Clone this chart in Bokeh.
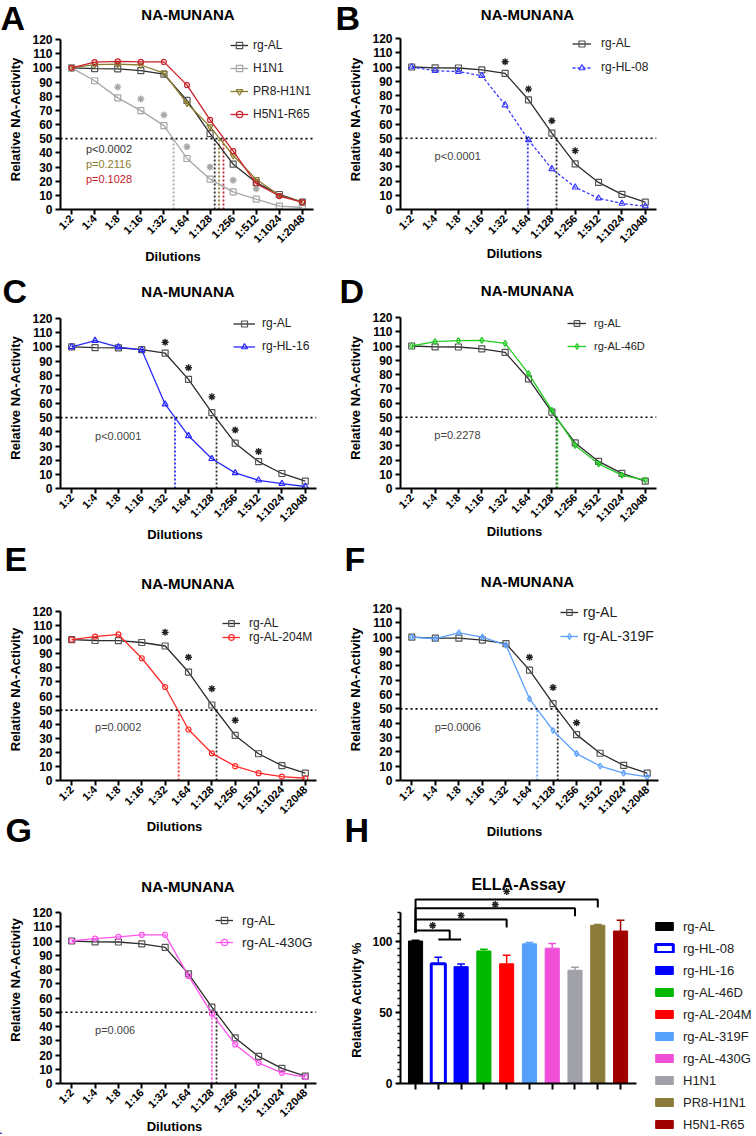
import math
from bokeh.plotting import figure
from bokeh.models import Range1d, FixedTicker, Label, Legend, LegendItem, Span
from bokeh.layouts import column, row
from bokeh.embed import file_html
from bokeh.resources import INLINE
from bokeh.core.properties import value

FONT = "Liberation Sans"

# ---------------- data ----------------
dilutions = ["1:2", "1:4", "1:8", "1:16", "1:32", "1:64", "1:128", "1:256", "1:512", "1:1024", "1:2048"]

rg_al      = [100, 99.4, 99.3, 98.0, 95.5, 77.0, 53.6, 32.0, 19.0, 10.6, 5.2]
h1n1       = [100, 90.9, 78.8, 69.8, 59.2, 36.0, 21.4, 12.4, 7.3, 2.4, 1.4]
pr8_h1n1   = [100, 102.2, 102.6, 102.0, 96.3, 75.0, 58.5, 38.1, 21.3, 10.0, 5.2]
h5n1_r65   = [100, 104.0, 104.6, 104.2, 104.2, 87.8, 63.2, 41.2, 18.2, 9.5, 5.2]
rg_hl_08   = [100, 97.4, 96.8, 93.9, 73.3, 48.8, 28.5, 15.6, 7.9, 4.2, 2.3]
rg_hl_16   = [100, 104.4, 99.8, 97.8, 59.5, 37.2, 21.0, 11.0, 5.8, 3.4, 1.4]
rg_al_46d  = [100, 103.1, 103.8, 104.0, 101.9, 80.6, 54.8, 30.2, 17.3, 9.4, 5.9]
rg_al_204m = [100, 102.2, 103.7, 86.8, 66.4, 36.2, 19.3, 10.2, 5.2, 2.8, 1.6]
rg_al_319f = [100, 98.9, 103.0, 100.0, 94.4, 57.0, 34.9, 18.7, 10.1, 5.2, 2.5]
rg_al_430g = [100, 101.7, 102.9, 104.3, 104.3, 75.5, 49.0, 27.4, 14.5, 7.5, 4.5]

# IC50 positions (in dilution-step units)
ic50_rg_al = 6.2
ic50_h1n1 = 4.42
ic50_pr8 = 6.39
ic50_h5n1 = 6.58
ic50_hl08 = 4.97
ic50_hl16 = 4.42
ic50_46d = 6.24
ic50_204m = 4.58
ic50_319f = 5.33
ic50_430g = 6.0

# significance stars (step index, height)
stars_a_x = [2, 3, 4, 5, 6, 7, 8]
stars_a_y = [86.4, 78.0, 66.7, 44.3, 30.0, 20.6, 14.7]
stars_b_x = [4, 5, 6, 7]
stars_b_y = [103.7, 84.5, 62.3, 41.3]
stars_c_x = [4, 5, 6, 7, 8]
stars_c_y = [103.2, 85.2, 64.7, 41.3, 26.1]
stars_e_x = [4, 5, 6, 7]
stars_e_y = [105.2, 87.5, 65.2, 42.8]
stars_f_x = [5, 6, 7]
stars_f_y = [86.0, 64.9, 40.3]

# ELLA assay
ella_names = ["rg-AL", "rg-HL-08", "rg-HL-16", "rg-AL-46D", "rg-AL-204M",
              "rg-AL-319F", "rg-AL-430G", "H1N1", "PR8-H1N1", "H5N1-R65"]
ella_mean = [100.0, 84.0, 82.0, 93.0, 84.0, 98.0, 95.0, 79.5, 111.0, 107.0]
ella_err = [0.6, 4.6, 1.8, 1.2, 6.0, 1.0, 3.2, 2.0, 0.5, 7.5]
ella_fill = ["#000000", "#ffffff", "#0000ff", "#00b800", "#ff0000",
             "#55a0fa", "#f050d8", "#a0a0a8", "#8b7b3a", "#a00000"]
ella_line = ["#000000", "#0000ff", "#0000ff", "#00b800", "#ff0000",
             "#55a0fa", "#f050d8", "#a0a0a8", "#8b7b3a", "#a00000"]
br_from = [0, 0, 0, 0]
br_to = [8, 7, 4, 1.5]
br_y = [129.1, 122.9, 115.1, 107.4]
br_right_end = [123.5, 117.3, 109.5, 101.1]
br_left_end = 106.0
sub_from, sub_to, sub_y = 1, 2, 101.1
ella_star_x = [4, 3.5, 2, 0.75]
ella_star_y = [134.8, 125.6, 117.9, 110.9]

W, H = 754, 1134


# ---------------- helpers ----------------
def make_fig(page, frame, x_range, y_range):
    x0, y0, x1, y1 = page
    fl, ft, fr, fb = frame
    p = figure(width=x1 - x0, height=y1 - y0, x_range=x_range, y_range=y_range,
               min_border_left=fl - x0, min_border_right=x1 - fr,
               min_border_top=ft - y0, min_border_bottom=y1 - fb,
               output_backend="svg", toolbar_location=None, tools="")
    p.grid.visible = False
    p.outline_line_color = None
    p.background_fill_color = "white"
    p.border_fill_color = "white"
    return p


def make_legend(items, origin_left, origin_bottom, glyph_left, row1, pitch, font, standoff,
                glyph_w=18, item_h=16, glyph_h=None):
    n = len(items)
    spacing = max(0, int(round(pitch - item_h)))
    height = n * item_h + (n - 1) * spacing
    top = row1 - item_h / 2
    return Legend(items=items, location=(glyph_left - origin_left, origin_bottom - (top + height)),
                  padding=0, margin=0, spacing=spacing,
                  glyph_width=glyph_w, glyph_height=glyph_h or item_h,
                  label_height=item_h, label_standoff=standoff,
                  label_text_font=FONT, label_text_font_size=f"{font}px",
                  label_text_color="#222222",
                  border_line_alpha=0, background_fill_alpha=0)


def style_axes(p):
    for ax in p.axis:
        ax.axis_line_width = 2
        ax.axis_line_color = "#000000"
        ax.major_tick_line_width = 2
        ax.major_tick_line_color = "#000000"
        ax.major_tick_in = 0
        ax.major_tick_out = 5
        ax.minor_tick_in = 0
        ax.minor_tick_out = 0
        ax.major_label_text_font = FONT
        ax.major_label_text_font_style = "bold"
        ax.major_label_text_color = "#000000"
        ax.axis_label_text_font = FONT
        ax.axis_label_text_font_style = "bold"
        ax.axis_label_text_font_size = "13px"
        ax.axis_label_text_color = "#000000"


def line_panel(page, xspan, rowframe, y120, curves, ic50s, star_x, star_y, star_color,
               pvals, leg):
    fl, fr = xspan
    ftop, fbot = rowframe            # common plot-frame rows for the whole row
    y_top = 120.0 * (fbot - ftop) / (fbot - y120)   # y=120 falls on pixel row y120
    p = make_fig(page, (fl, ftop, fr, fbot), Range1d(-0.48, 10.48), Range1d(0, y_top))
    style_axes(p)
    p.xaxis.ticker = FixedTicker(ticks=list(range(len(dilutions))))
    p.xaxis.major_label_overrides = {i: d for i, d in enumerate(dilutions)}
    p.xaxis.major_label_orientation = math.pi / 4
    p.xaxis.major_label_text_font_size = "11px"
    p.xaxis.major_label_standoff = 2
    p.yaxis.ticker = FixedTicker(ticks=list(range(0, 121, 10)))
    p.yaxis.bounds = (0, 120)
    p.yaxis.major_label_text_font_size = "12px"
    p.yaxis.major_label_standoff = 3
    p.yaxis.axis_label = "Relative NA-Activity"
    p.yaxis.axis_label_standoff = 6

    p.add_layout(Span(location=50, dimension="width", line_color="#000000",
                      line_width=1.6, line_dash="2 3"))
    for xv, col in ic50s:
        p.segment(x0=[xv], y0=[0], x1=[xv], y1=[50], line_color=col,
                  line_width=1.8, line_dash="2 2")

    xs = list(range(len(dilutions)))
    items = []
    for name, vals, col, mcol, marker, msize, dash in curves:
        lr = p.line(xs, vals, line_color=col, line_width=1.3, line_dash=dash)
        sr = p.scatter(xs, vals, marker=marker, size=msize, line_color=mcol,
                       fill_alpha=0, line_width=1.2)
        items.append(LegendItem(label=name, renderers=[lr, sr]))

    if star_x:
        p.scatter(star_x, star_y, marker="asterisk", size=7, line_color=star_color,
                  line_width=1.4)

    for (xv, yv, txt, col) in pvals:
        p.add_layout(Label(x=xv, y=yv, text=txt, text_font=FONT, text_font_size="11px",
                           text_color=col, text_baseline="middle", text_align="left"))

    glyph_left, row1, pitch, font, standoff, gw, ih = leg
    p.add_layout(make_legend(items, fl, fbot, glyph_left, row1, pitch, font, standoff, gw, ih))
    return p


AL_COL = "#2b2b2b"
AL_MCOL = "#555555"
al_curve = ("rg-AL", rg_al, AL_COL, AL_MCOL, "square", 6, "solid")

# ---------------- geometry ----------------
LX0, LX1 = 0, 335
RX0, RX1 = 335, W
R1 = (0, 275)
R2 = (275, 545)
R3 = (545, 840)
R4 = (840, H)
F1 = (29, 209)
F2 = (307, 488)
F3 = (598, 780)
F4 = (876, 1083)

pA = line_panel(
    (LX0, R1[0], LX1, R1[1]), (60, 313), F1, 39,
    [al_curve,
     ("H1N1", h1n1, "#a6a6a6", "#a6a6a6", "square", 6, "solid"),
     ("PR8-H1N1", pr8_h1n1, "#8c7d2e", "#8c7d2e", "inverted_triangle", 6, "solid"),
     ("H5N1-R65", h5n1_r65, "#c8202a", "#c8202a", "circle", 5, "solid")],
    [(ic50_h1n1, "#a6a6a6"), (ic50_rg_al, "#2b2b2b"), (ic50_pr8, "#8c7d2e"), (ic50_h5n1, "#c8202a")],
    stars_a_x, stars_a_y, "#a6a6a6",
    [(0.62, 42.6, "p<0.0002", "#333333"), (0.62, 32.0, "p=0.2116", "#8c7d2e"),
     (0.62, 21.8, "p=0.1028", "#c8202a")],
    (230, 45, 22.7, 12, 5, 18, 16))

pB = line_panel(
    (RX0, R1[0], RX1, R1[1]), (400, 656), F1, 38,
    [al_curve,
     ("rg-HL-08", rg_hl_08, "#3a3aff", "#3a3aff", "triangle", 6, "3 2")],
    [(ic50_hl08, "#3a3aff"), (ic50_rg_al, "#2b2b2b")],
    stars_b_x, stars_b_y, "#222222",
    [(0.98, 37.4, "p<0.0001", "#444444")],
    (572, 43, 24, 12, 10, 19, 15))

pC = line_panel(
    (LX0, R2[0], LX1, R2[1]), (60, 316), F2, 318,
    [al_curve,
     ("rg-HL-16", rg_hl_16, "#2828ff", "#2828ff", "triangle", 6, "solid")],
    [(ic50_hl16, "#2828ff"), (ic50_rg_al, "#2b2b2b")],
    stars_c_x, stars_c_y, "#222222",
    [(1.0, 37.4, "p<0.0001", "#444444")],
    (233, 323, 22.7, 12, 7, 22, 15))

pD = line_panel(
    (RX0, R2[0], RX1, R2[1]), (400, 656), F2, 317,
    [al_curve,
     ("rg-AL-46D", rg_al_46d, "#22cc22", "#22cc22", "diamond", 6, "solid")],
    [(ic50_rg_al, "#2b2b2b"), (ic50_46d, "#22cc22")],
    [], [], "#222222",
    [(0.97, 37.3, "p=0.2278", "#444444")],
    (567, 323, 23.4, 11, 8, 19, 14))

pE = line_panel(
    (LX0, R3[0], LX1, R3[1]), (60, 316), F3, 611,
    [al_curve,
     ("rg-AL-204M", rg_al_204m, "#ff2a2a", "#ff2a2a", "circle", 5, "solid")],
    [(ic50_204m, "#ff2a2a"), (ic50_rg_al, "#2b2b2b")],
    stars_e_x, stars_e_y, "#222222",
    [(1.0, 38.0, "p=0.0002", "#444444")],
    (222, 623, 14, 12, 9, 18, 14))

pF = line_panel(
    (RX0, R3[0], RX1, R3[1]), (400, 658), F3, 608,
    [al_curve,
     ("rg-AL-319F", rg_al_319f, "#5aa0ff", "#5aa0ff", "diamond", 6, "solid")],
    [(ic50_319f, "#5aa0ff"), (ic50_rg_al, "#2b2b2b")],
    stars_f_x, stars_f_y, "#222222",
    [(0.97, 37.5, "p=0.0006", "#444444")],
    (560, 615, 22.0, 14, 5, 18, 14))

pG = line_panel(
    (LX0, R4[0], LX1, R4[1]), (60, 316), F4, 912,
    [al_curve,
     ("rg-AL-430G", rg_al_430g, "#ff55ee", "#ff55ee", "circle", 5, "solid")],
    [(ic50_430g, "#ff55ee"), (ic50_rg_al, "#2b2b2b")],
    [], [], "#222222",
    [(1.0, 37.3, "p=0.006", "#444444")],
    (215, 920, 21.7, 13.5, 9, 18, 16))

# Panel H : ELLA bar chart (same frame rows as panel G)
fH = (400, F4[0], 636, F4[1])
pH = make_fig((RX0, R4[0], RX1, R4[1]), fH, Range1d(-0.66, 9.7),
              Range1d(0, (F4[1] - F4[0]) / 1.425))
style_axes(pH)
bx = list(range(len(ella_names)))
pH.xaxis.ticker = FixedTicker(ticks=bx)
pH.xaxis.major_label_overrides = {i: " " for i in bx}
pH.xaxis.major_tick_out = 6
pH.yaxis.ticker = FixedTicker(ticks=[0, 50, 100], minor_ticks=list(range(0, 121, 5)))
pH.yaxis.bounds = (0, 120)
pH.yaxis.minor_tick_out = 3
pH.yaxis.minor_tick_line_width = 1.5
pH.yaxis.minor_tick_line_color = "#000000"
pH.yaxis.major_label_text_font_size = "12px"
pH.yaxis.major_label_standoff = 3

for i in bx:
    lw = 3 if ella_fill[i] == "#ffffff" else 1
    pH.vbar(x=[bx[i]], top=[ella_mean[i]], bottom=0, width=0.62,
            fill_color=ella_fill[i], line_color=ella_line[i], line_width=lw)
    top = ella_mean[i] + ella_err[i]
    pH.segment(x0=[bx[i]], y0=[ella_mean[i]], x1=[bx[i]], y1=[top],
               line_color=ella_line[i], line_width=1.5)
    pH.segment(x0=[bx[i] - 0.17], y0=[top], x1=[bx[i] + 0.17], y1=[top],
               line_color=ella_line[i], line_width=1.5)

bxs, bys = [], []
for f, t, y, ye in zip(br_from, br_to, br_y, br_right_end):
    bxs.append([f, f, t, t])
    bys.append([br_left_end, y, y, ye])
bxs.append([sub_from, sub_to])
bys.append([sub_y, sub_y])
pH.multi_line(bxs, bys, line_color="#000000", line_width=2)
pH.scatter(ella_star_x, ella_star_y, marker="asterisk", size=7, line_color="#222222",
           line_width=1.4)

# ---------------- overlay for texts / legend outside plot frames ----------------
ov = figure(width=W, height=H, x_range=Range1d(0, W), y_range=Range1d(0, H),
            min_border_left=0, min_border_right=0, min_border_top=0, min_border_bottom=0,
            x_axis_location=None, y_axis_location=None,
            output_backend="svg", toolbar_location=None, tools="")
ov.grid.visible = False
ov.outline_line_color = None
ov.background_fill_alpha = 0
ov.border_fill_alpha = 0
ov.margin = (-H, 0, 0, 0)

# ELLA legend: swatches styled like the bars (their own bar lies off-canvas)
ella_items = []
for i in bx:
    lw = 3 if ella_fill[i] == "#ffffff" else 1
    sw = ov.vbar(x=[-100], top=[1], bottom=0, width=1, fill_color=ella_fill[i],
                 line_color=ella_line[i], line_width=lw)
    ella_items.append(LegendItem(label=ella_names[i], renderers=[sw]))
ov.add_layout(make_legend(ella_items, 0, H, 653, 926, 22.0, 13, 8, 22, 16, 10))


def ov_text(xs, ys, texts, size, bold=True, align="left", angle=0.0):
    # ys are the vertical centres of the capitals, in page pixels from the top
    ov.text(x=xs, y=[H - y for y in ys], text=texts, text_font=value(FONT),
            text_font_size=f"{size}px", text_font_style="bold" if bold else "normal",
            text_color="#000000", text_align=align, text_baseline="alphabetic", angle=angle)


panel_letters = ["A", "B", "C", "D", "E", "F", "G", "H"]
ov_text([0, 335, 2, 339, 4, 344, 5, 344],
        [17, 17, 290.5, 290.5, 558.5, 558.5, 829.5, 829.5], panel_letters, 34)
ov_text([187.5, 527, 187.5, 527, 187.5, 527, 187.5], [14, 14, 291, 290, 582.5, 581, 886],
        ["NA-MUNANA"] * 7, 15, align="center")
ov_text([518], [884], ["ELLA-Assay"], 16, align="center")
ov_text([172.5, 514, 174.5, 514, 174, 514, 174], [256, 252.5, 533.5, 531, 826, 831, 1125.5],
        ["Dilutions"] * 7, 13, align="center")
ov_text([356], [999.5], ["Relative Activity %"], 13, align="center", angle=math.pi / 2)

panels = column(row(pA, pB), row(pC, pD), row(pE, pF), row(pG, pH))
layout = column(panels, ov)
open("out.html", "w").write(file_html(layout, INLINE))
